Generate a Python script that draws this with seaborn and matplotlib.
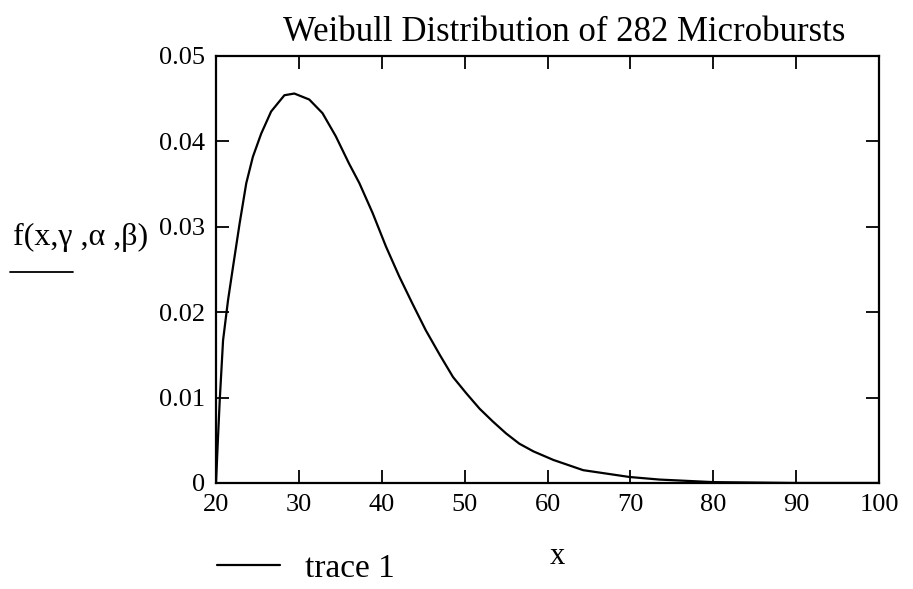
import numpy as np
import pandas as pd
import matplotlib.pyplot as plt
from matplotlib.lines import Line2D
import seaborn as sns

# values
x_vals = [20.0, 20.2, 20.45, 20.85, 21.45, 22.05, 22.85, 23.65, 24.45, 25.45,
          26.65, 28.25, 29.45, 31.25, 32.85, 34.45, 36.05, 37.3, 38.9, 40.5,
          42.1, 43.7, 45.3, 47.0, 48.6, 50.2, 51.8, 53.4, 55.0, 56.6,
          58.3, 60.7, 64.3, 69.9, 73.5, 80.0, 90.0, 100.0]
f_vals = [0.0, 0.0045, 0.0097, 0.0167, 0.0214, 0.0253, 0.0304, 0.0351, 0.0382, 0.0409,
          0.0435, 0.0454, 0.0456, 0.0449, 0.0433, 0.0406, 0.0374, 0.0351, 0.0316, 0.0277,
          0.0242, 0.0210, 0.0179, 0.0150, 0.0124, 0.0105, 0.0087, 0.0072, 0.0058, 0.0046,
          0.0037, 0.0027, 0.0015, 0.0007, 0.0004, 0.0001, 0.0, 0.0]

x_ticks = [20, 30, 40, 50, 60, 70, 80, 90, 100]
y_ticks = [0, 0.01, 0.02, 0.03, 0.04, 0.05]
y_tick_labels = ["0", "0.01", "0.02", "0.03", "0.04", "0.05"]

df = pd.DataFrame({"x": x_vals, "f": f_vals, "series": "trace 1"})

sns.set_style("ticks")
plt.rcParams["font.family"] = ["Liberation Serif", "DejaVu Serif"]
plt.rcParams["text.color"] = "black"
plt.rcParams["axes.labelcolor"] = "black"

fig = plt.figure(figsize=(9.13, 5.89), dpi=100)
ax = fig.add_axes([0.2366, 0.18, 0.7262, 0.725])

sns.lineplot(data=df, x="x", y="f", hue="series", palette=["black"],
             linewidth=1.6, ax=ax)

ax.set_xlim(20, 100)
ax.set_ylim(0, 0.05)
ax.set_xticks(x_ticks)
ax.set_xticklabels([str(t) for t in x_ticks])
ax.set_yticks(y_ticks)
ax.set_yticklabels(y_tick_labels)
ax.tick_params(direction="in", length=9.5, width=1.3, labelsize=19,
               top=True, right=True, color="black", labelcolor="black")
ax.tick_params(axis="x", pad=8)
ax.tick_params(axis="y", pad=8)
for s in ax.spines.values():
    s.set_visible(True)
    s.set_linewidth(1.6)
    s.set_color("black")

ax.set_xlabel("x", fontsize=22, color="black")
ax.xaxis.set_label_coords(0.515, -0.138)
ax.set_ylabel("f(x,γ ,α ,β)", fontsize=23, rotation=0, ha="right", va="center",
              color="black")
ax.yaxis.set_label_coords(-0.103, 0.574)
fig.add_artist(Line2D([0.011, 0.080], [0.538, 0.538], color="black", linewidth=1.3))

fig.text(0.618, 0.944, "Weibull Distribution of 282 Microbursts",
         fontsize=25, ha="center", va="center", color="black")

leg = ax.legend(loc="center left", bbox_to_anchor=(0.205, 0.035),
                bbox_transform=fig.transFigure, frameon=False, fontsize=24,
                handlelength=1.9, handletextpad=0.75)
for t in leg.get_texts():
    t.set_color("black")

fig.savefig("out.png", dpi=100, facecolor="white")
